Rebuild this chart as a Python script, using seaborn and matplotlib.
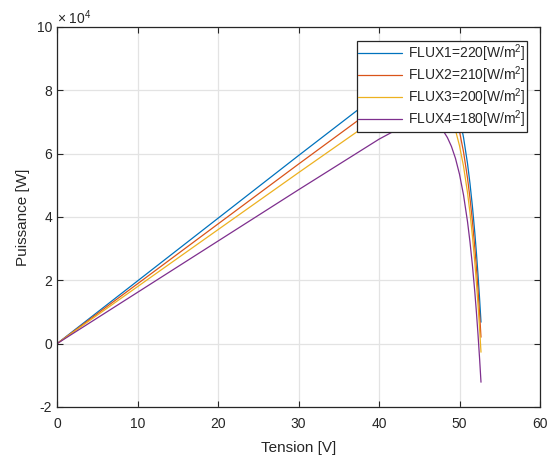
import matplotlib
matplotlib.use("Agg")
import matplotlib.pyplot as plt
import matplotlib.ticker as mticker
import seaborn as sns
import pandas as pd

# Voltage grid (V)
tension = [0, 10, 20, 30, 40, 43, 45, 46, 47, 48, 48.5, 49, 49.5, 50, 50.5,
           51, 51.3, 51.6, 51.9, 52.1, 52.3, 52.5, 52.67]

# Power (W) for each irradiance level
p_flux1 = [0, 19800, 39600, 59400, 78968, 84160, 86549, 86972, 86447, 84403,
           82532, 79914, 76324, 71505, 65125, 56799, 50638, 43427, 35064,
           28728, 21720, 14002, 6794]
p_flux2 = [0, 18900, 37800, 56698, 75368, 80290, 82499, 82832, 82217, 80083,
           78167, 75504, 71869, 67005, 60580, 52209, 46021, 38783, 30393,
           24039, 17013, 9277, 2054]
p_flux3 = [0, 18000, 36000, 53998, 71768, 76420, 78449, 78692, 77987, 75763,
           73802, 71094, 67414, 62505, 56035, 47619, 41404, 34139, 25722,
           19350, 12306, 4552, -2686]
p_flux4 = [0, 16200, 32400, 48598, 64568, 68680, 70349, 70412, 69527, 67123,
           65072, 62274, 58504, 53505, 46945, 38439, 32170, 24851, 16380,
           9972, 2892, -4898, -12167]

labels = ["FLUX1=220[W/m$^{2}$]", "FLUX2=210[W/m$^{2}$]",
          "FLUX3=200[W/m$^{2}$]", "FLUX4=180[W/m$^{2}$]"]
colors = ["#0072BD", "#D95319", "#EDB120", "#7E2F8E"]

x_ticks = [0, 10, 20, 30, 40, 50, 60]
y_ticks = [-20000, 0, 20000, 40000, 60000, 80000, 100000]
y_scale = 1e4

rows = []
for lab, series in zip(labels, [p_flux1, p_flux2, p_flux3, p_flux4]):
    for v, p in zip(tension, series):
        rows.append({"Tension": v, "Puissance": p, "serie": lab})
df = pd.DataFrame(rows)

sns.set_theme(style="white")
plt.rcParams["font.family"] = ["Liberation Sans", "DejaVu Sans"]
plt.rcParams["mathtext.fontset"] = "custom"
plt.rcParams["mathtext.rm"] = "Liberation Sans"
plt.rcParams["mathtext.it"] = "Liberation Sans:italic"
plt.rcParams["axes.unicode_minus"] = False

fig = plt.figure(figsize=(5.52, 4.59), dpi=100)
ax = fig.add_axes([57 / 552, 52 / 459, 483 / 552, 380 / 459])

sns.lineplot(data=df, x="Tension", y="Puissance", hue="serie",
             palette=colors, sort=False, estimator=None, linewidth=0.9,
             ax=ax, legend=True)

ax.set_xlim(0, 60)
ax.set_ylim(-20000, 100000)
ax.set_xticks(x_ticks)
ax.set_yticks(y_ticks)
ax.yaxis.set_major_formatter(
    mticker.FuncFormatter(lambda v, pos: f"{v / y_scale:g}"))
ax.text(0.0, 1.0, "× 10$^{4}$", transform=ax.transAxes, ha="left",
        va="bottom", fontsize=10, color="#262626")

ax.grid(True, color="#e3e3e3", linewidth=0.9)
ax.set_axisbelow(True)
for s in ax.spines.values():
    s.set_color("#262626")
    s.set_linewidth(0.9)
ax.tick_params(direction="in", length=4, width=0.8, color="#262626",
               labelsize=10, labelcolor="#262626", top=True, right=True,
               bottom=True, left=True)
ax.tick_params(axis="x", pad=7.5)
ax.tick_params(axis="y", pad=3.5)

ax.set_xlabel("Tension [V]", fontsize=11, color="#262626", labelpad=7)
ax.set_ylabel("Puissance [W]", fontsize=11, color="#262626", labelpad=5)

handles, labs = ax.get_legend_handles_labels()
leg = ax.legend(handles, labs, loc="upper right",
                bbox_to_anchor=(0.973, 0.963), fontsize=10, frameon=True,
                fancybox=False, framealpha=1, edgecolor="#262626",
                borderpad=0.12, labelspacing=0.02, handlelength=3.1,
                handletextpad=0.45, borderaxespad=0)
leg.get_frame().set_linewidth(0.9)
for t in leg.get_texts():
    t.set_color("#262626")

fig.savefig("out.png", dpi=100)
